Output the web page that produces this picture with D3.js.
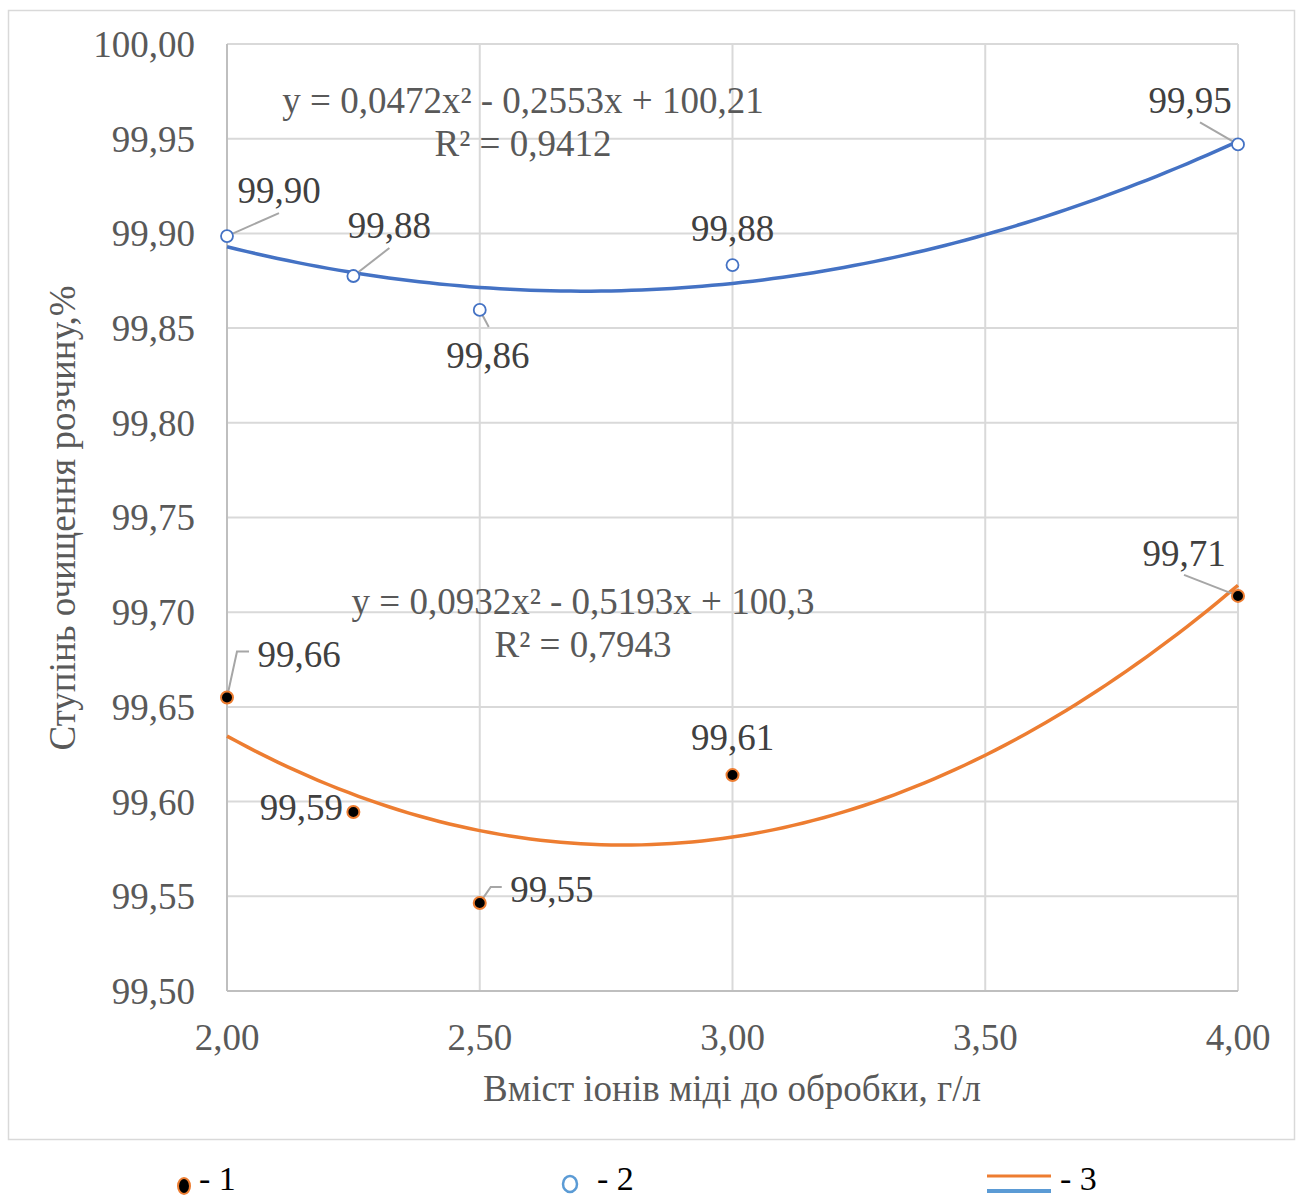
<!DOCTYPE html>
<html>
<head>
<meta charset="utf-8">
<script src="https://cdn.jsdelivr.net/npm/d3@7"></script>
<style>
	body { margin: 0; background: #fff; }
	svg text { font-family: "Liberation Serif", "Times New Roman", serif; }
</style>
</head>
<body>
<div id="chart"></div>
<script>
// Data.
var xValues = [ 2.00, 2.25, 2.50, 3.00, 4.00 ];
var series1 = [ 99.655, 99.5945, 99.5465, 99.614, 99.7086 ];
var series2 = [ 99.8986, 99.8775, 99.8596, 99.8833, 99.947 ];
var labels1 = [ '99,66', '99,59', '99,55', '99,61', '99,71' ];
var labels2 = [ '99,90', '99,88', '99,86', '99,88', '99,95' ];
var xTicks = [ 2.0, 2.5, 3.0, 3.5, 4.0 ];
var yTicks = [ 99.50, 99.55, 99.60, 99.65, 99.70, 99.75, 99.80, 99.85, 99.90, 99.95, 100.00 ];
var eq1 = [ 'y = 0,0932x² - 0,5193x + 100,3', 'R² = 0,7943' ];
var eq2 = [ 'y = 0,0472x² - 0,2553x + 100,21', 'R² = 0,9412' ];
var legendLabels = [ '- 1', '- 2', '- 3' ];

( function () {

	var W = 1300, H = 1198;
	var plot = { left: 227, right: 1238, top: 44, bottom: 991 };
	var fs = 37;
	var comma = function ( v ) { return v.toFixed( 2 ).replace( '.', ',' ); };

	var svg = d3.select( '#chart' ).append( 'svg' ).attr( 'width', W ).attr( 'height', H );

	var x = d3.scaleLinear().domain( [ 2, 4 ] ).range( [ plot.left, plot.right ] );
	var y = d3.scaleLinear().domain( [ 99.5, 100 ] ).range( [ plot.bottom, plot.top ] );

	// Chart area frame.
	svg.append( 'rect' )
		.attr( 'x', 8.5 ).attr( 'y', 10.5 ).attr( 'width', 1286 ).attr( 'height', 1129 )
		.attr( 'fill', 'none' ).attr( 'stroke', '#d9d9d9' ).attr( 'stroke-width', 1.5 );

	// Grid lines.
	svg.append( 'g' ).selectAll( 'line' ).data( yTicks ).enter().append( 'line' )
		.attr( 'x1', plot.left ).attr( 'x2', plot.right )
		.attr( 'y1', function ( d ) { return y( d ); } ).attr( 'y2', function ( d ) { return y( d ); } )
		.attr( 'stroke', '#d9d9d9' ).attr( 'stroke-width', 2 );
	svg.append( 'g' ).selectAll( 'line' ).data( xTicks ).enter().append( 'line' )
		.attr( 'x1', function ( d ) { return x( d ); } ).attr( 'x2', function ( d ) { return x( d ); } )
		.attr( 'y1', plot.top ).attr( 'y2', plot.bottom )
		.attr( 'stroke', '#d9d9d9' ).attr( 'stroke-width', 2 );

	// Axis lines.
	svg.append( 'line' ).attr( 'x1', plot.left ).attr( 'x2', plot.left ).attr( 'y1', plot.top ).attr( 'y2', plot.bottom )
		.attr( 'stroke', '#bfbfbf' ).attr( 'stroke-width', 2 );
	svg.append( 'line' ).attr( 'x1', plot.left ).attr( 'x2', plot.right ).attr( 'y1', plot.bottom ).attr( 'y2', plot.bottom )
		.attr( 'stroke', '#bfbfbf' ).attr( 'stroke-width', 2 );

	// Tick labels.
	svg.append( 'g' ).selectAll( 'text' ).data( yTicks ).enter().append( 'text' )
		.attr( 'x', 195 ).attr( 'y', function ( d ) { return y( d ); } )
		.attr( 'dy', '0.35em' ).attr( 'text-anchor', 'end' )
		.attr( 'font-size', fs ).attr( 'fill', '#595959' )
		.text( comma );
	svg.append( 'g' ).selectAll( 'text' ).data( xTicks ).enter().append( 'text' )
		.attr( 'x', function ( d ) { return x( d ); } ).attr( 'y', 1037 )
		.attr( 'dy', '0.35em' ).attr( 'text-anchor', 'middle' )
		.attr( 'font-size', fs ).attr( 'fill', '#595959' )
		.text( comma );

	// Axis titles.
	svg.append( 'text' )
		.attr( 'x', 732 ).attr( 'y', 1088 ).attr( 'dy', '0.35em' ).attr( 'text-anchor', 'middle' )
		.attr( 'font-size', fs ).attr( 'fill', '#595959' )
		.text( 'Вміст іонів міді до обробки, г/л' );
	svg.append( 'text' )
		.attr( 'transform', 'translate( 62, 518 ) rotate( -90 )' )
		.attr( 'dy', '0.35em' ).attr( 'text-anchor', 'middle' )
		.attr( 'font-size', fs ).attr( 'fill', '#595959' )
		.text( 'Ступінь очищення розчину,%' );

	// Least squares quadratic trend line, as the spreadsheet does it.
	var fitQuadratic = function ( xs, ys ) {
		var n = xs.length, s = [ 0, 0, 0, 0, 0 ], t = [ 0, 0, 0 ];
		for ( var i = 0; i < n; i++ ) {
			for ( var k = 0; k < 5; k++ ) { s[k] += Math.pow( xs[i], k ); }
			for ( var k = 0; k < 3; k++ ) { t[k] += ys[i] * Math.pow( xs[i], k ); }
		}
		var A = [ [ s[0], s[1], s[2], t[0] ], [ s[1], s[2], s[3], t[1] ], [ s[2], s[3], s[4], t[2] ] ];
		for ( var c = 0; c < 3; c++ ) {
			for ( var r = c + 1; r < 3; r++ ) {
				var f = A[r][c] / A[c][c];
				for ( var k = c; k < 4; k++ ) { A[r][k] -= f * A[c][k]; }
			}
		}
		var b = [ 0, 0, 0 ];
		for ( var r = 2; r >= 0; r-- ) {
			var v = A[r][3];
			for ( var k = r + 1; k < 3; k++ ) { v -= A[r][k] * b[k]; }
			b[r] = v / A[r][r];
		}
		return function ( xv ) { return b[0] + b[1] * xv + b[2] * xv * xv; };
	};

	var line = d3.line().x( function ( d ) { return x( d[0] ); } ).y( function ( d ) { return y( d[1] ); } );
	var drawTrend = function ( ys, color ) {
		var fn = fitQuadratic( xValues, ys );
		var pts = d3.range( 0, 101 ).map( function ( i ) { var xv = 2 + i * 0.02; return [ xv, fn( xv ) ]; } );
		svg.append( 'path' ).datum( pts ).attr( 'd', line )
			.attr( 'fill', 'none' ).attr( 'stroke', color ).attr( 'stroke-width', 3.5 );
	};
	drawTrend( series1, '#ed7d31' );
	drawTrend( series2, '#4472c4' );

	// Equations.
	var drawEq = function ( lines, cx, cy ) {
		svg.append( 'g' ).selectAll( 'text' ).data( lines ).enter().append( 'text' )
			.attr( 'x', cx ).attr( 'y', function ( d, i ) { return cy + i * 43; } )
			.attr( 'dy', '0.35em' ).attr( 'text-anchor', 'middle' )
			.attr( 'font-size', fs ).attr( 'fill', '#595959' )
			.text( function ( d ) { return d; } );
	};
	drawEq( eq2, 523, 100 );
	drawEq( eq1, 583, 601 );

	// Data label leader lines (offsets from the marker).
	var leaders1 = [ [ [ 0, 0 ], [ 10, -46 ], [ 22, -46 ] ], null, [ [ 0, 0 ], [ 11, -16 ], [ 22, -16 ] ], null, [ [ 0, 0 ], [ -54, -21 ] ] ];
	var leaders2 = [ [ [ 0, 0 ], [ 52, -23 ] ], [ [ 0, 0 ], [ 36, -28 ] ], [ [ 0, 0 ], [ 9, 17 ] ], null, [ [ 0, 0 ], [ -38, -22 ] ] ];
	// Label centre offsets from the marker.
	var offs1 = [ [ 72, -43 ], [ -52, -5 ], [ 72, -14 ], [ 0, -38 ], [ -54, -43 ] ];
	var offs2 = [ [ 52, -46 ], [ 36, -51 ], [ 8, 45 ], [ 0, -37 ], [ -48, -44 ] ];

	var drawLabels = function ( ys, labels, offs, leaders ) {
		var g = svg.append( 'g' );
		ys.forEach( function ( v, i ) {
			var px = x( xValues[i] ), py = y( v );
			if ( leaders[i] ) {
				g.append( 'polyline' )
					.attr( 'points', leaders[i].map( function ( p ) { return ( px + p[0] ) + ',' + ( py + p[1] ); } ).join( ' ' ) )
					.attr( 'fill', 'none' ).attr( 'stroke', '#a6a6a6' ).attr( 'stroke-width', 2 );
			}
			g.append( 'text' )
				.attr( 'x', px + offs[i][0] ).attr( 'y', py + offs[i][1] )
				.attr( 'dy', '0.35em' ).attr( 'text-anchor', 'middle' )
				.attr( 'font-size', fs ).attr( 'fill', '#404040' )
				.text( labels[i] );
		} );
	};
	drawLabels( series1, labels1, offs1, leaders1 );
	drawLabels( series2, labels2, offs2, leaders2 );

	// Markers.
	svg.append( 'g' ).selectAll( 'circle' ).data( series2 ).enter().append( 'circle' )
		.attr( 'cx', function ( d, i ) { return x( xValues[i] ); } ).attr( 'cy', function ( d ) { return y( d ); } )
		.attr( 'r', 6 ).attr( 'fill', '#fff' ).attr( 'stroke', '#4472c4' ).attr( 'stroke-width', 1.8 );
	svg.append( 'g' ).selectAll( 'circle' ).data( series1 ).enter().append( 'circle' )
		.attr( 'cx', function ( d, i ) { return x( xValues[i] ); } ).attr( 'cy', function ( d ) { return y( d ); } )
		.attr( 'r', 6 ).attr( 'fill', '#000' ).attr( 'stroke', '#ed7d31' ).attr( 'stroke-width', 2 );

	// Legend below the chart frame.
	var lg = svg.append( 'g' );
	lg.append( 'ellipse' ).attr( 'cx', 184 ).attr( 'cy', 1186 ).attr( 'rx', 6 ).attr( 'ry', 8 )
		.attr( 'fill', '#000' ).attr( 'stroke', '#ed7d31' ).attr( 'stroke-width', 2 );
	lg.append( 'ellipse' ).attr( 'cx', 570 ).attr( 'cy', 1184 ).attr( 'rx', 7 ).attr( 'ry', 8 )
		.attr( 'fill', '#fff' ).attr( 'stroke', '#5b9bd5' ).attr( 'stroke-width', 2.5 );
	lg.append( 'line' ).attr( 'x1', 987 ).attr( 'x2', 1051 ).attr( 'y1', 1176 ).attr( 'y2', 1176 )
		.attr( 'stroke', '#ed7d31' ).attr( 'stroke-width', 3 );
	lg.append( 'line' ).attr( 'x1', 987 ).attr( 'x2', 1051 ).attr( 'y1', 1191 ).attr( 'y2', 1191 )
		.attr( 'stroke', '#5b9bd5' ).attr( 'stroke-width', 4 );
	var legX = [ 199, 597, 1060 ];
	lg.selectAll( 'text' ).data( legendLabels ).enter().append( 'text' )
		.attr( 'x', function ( d, i ) { return legX[i]; } ).attr( 'y', 1190 )
		.attr( 'font-size', 34 ).attr( 'fill', '#000' )
		.text( function ( d ) { return d; } );

} )();
</script>
</body>
</html>
